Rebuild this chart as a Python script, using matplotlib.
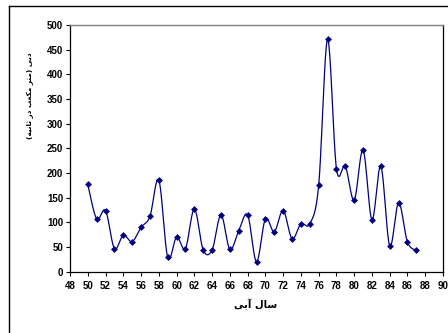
import numpy as np
import matplotlib
matplotlib.use("Agg")
import matplotlib.pyplot as plt
from matplotlib.lines import Line2D

years = list(range(50, 88))
discharge = [177, 107, 124, 47, 74, 61, 90, 112, 186, 29,
             70, 47, 127, 44, 44, 115, 45, 83, 115, 20,
             107, 81, 124, 67, 97, 97, 175, 471, 209, 214,
             145, 247, 105, 214, 52, 140, 60, 43]
xticks = list(range(48, 91, 2))
yticks = list(range(0, 501, 50))

# Persian labels in visual (shaped) order
xlabel = "\uFEF0\uFE91\uFE81 \uFEDD\uFE8E\uFEB3"
ylabel = ("(" + "\uFEEA\uFEF4\uFEE7\uFE8E\uFE9B" + " " + "\uFEAD\uFEA9" + " "
          + "\uFE90\uFECC\uFEDC\uFEE3" + " " + "\uFEAE\uFE98\uFEE3" + ")" + " "
          + "\uFEF0\uFE91\uFEA9")

def smooth(x, y, n=20):
    x = np.asarray(x, float); y = np.asarray(y, float)
    px = np.concatenate([[x[0]], x, [x[-1]]])
    py = np.concatenate([[y[0]], y, [y[-1]]])
    xs, ys = [], []
    for i in range(1, len(px) - 2):
        p0 = np.array([px[i-1], py[i-1]]); p1 = np.array([px[i], py[i]])
        p2 = np.array([px[i+1], py[i+1]]); p3 = np.array([px[i+2], py[i+2]])
        c1 = p1 + (p2 - p0) / 6.0
        c2 = p2 - (p3 - p1) / 6.0
        t = np.linspace(0, 1, n, endpoint=(i == len(px) - 3))[:, None]
        b = ((1-t)**3)*p1 + 3*((1-t)**2)*t*c1 + 3*(1-t)*(t**2)*c2 + (t**3)*p2
        xs.append(b[:, 0]); ys.append(b[:, 1])
    return np.concatenate(xs), np.concatenate(ys)

plt.rcParams['font.family'] = ['Liberation Sans', 'DejaVu Sans']
fig = plt.figure(figsize=(4.48, 3.33), dpi=100)
ax = fig.add_axes([70/448, 1-271.7/333, (443-70)/448, (271.7-25)/333])

sx, sy = smooth(years, discharge)
navy = '#000080'
ax.plot(sx, sy, color=navy, lw=0.9)
ax.plot(years, discharge, linestyle='none', marker='D', ms=3.0, mew=0.5,
        color=navy)

ax.set_xlim(48, 90)
ax.set_ylim(0, 500)
ax.set_xticks(xticks)
ax.set_yticks(yticks)
ax.tick_params(axis='both', direction='out', length=3, width=0.8,
               labelsize=7, pad=2, colors='black')
for lab in ax.get_xticklabels() + ax.get_yticklabels():
    lab.set_fontweight('bold')
ax.tick_params(axis='x', pad=3.5)
for s in ['left', 'bottom', 'right']:
    ax.spines[s].set_color('black')
    ax.spines[s].set_linewidth(0.9)
ax.spines['top'].set_color('#808080')
ax.spines['top'].set_linewidth(1.0)

fig.text(256/448, 1-304/333, xlabel, ha='center', va='center',
         fontsize=7.2, fontweight='bold', family=['DejaVu Sans'])
fig.text(30/448, 1-96/333, ylabel, ha='center', va='center', rotation=90,
         fontsize=5.2, fontweight='bold', family=['DejaVu Sans'])

fig.add_artist(Line2D([9/448, 9/448], [0, 1-6/333], transform=fig.transFigure,
                      color='black', lw=1.0))
fig.add_artist(Line2D([9/448, 1], [1-6/333, 1-6/333], transform=fig.transFigure,
                      color='black', lw=1.0))

fig.savefig('out.png', dpi=100)
